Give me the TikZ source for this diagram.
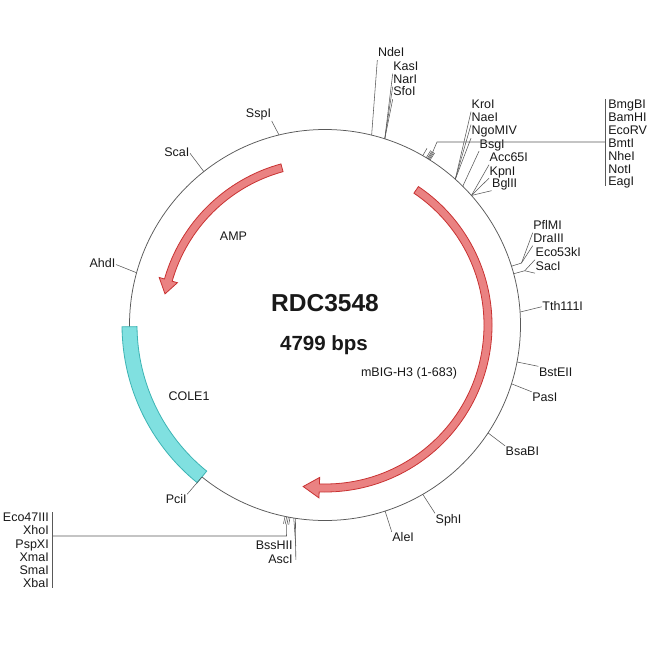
\documentclass[tikz,border=0pt]{standalone}
\usepackage{fontspec}
\setmainfont{Liberation Sans}
\definecolor{ampfill}{RGB}{234,130,130}
\definecolor{ampline}{RGB}{200,50,50}
\definecolor{orifill}{RGB}{128,224,224}
\definecolor{oriline}{RGB}{60,180,180}
\definecolor{txt}{RGB}{25,25,25}
\begin{document}
\begin{tikzpicture}[x=1pt,y=-1pt,
 lab/.style={font=\fontsize{12.5}{13}\selectfont, text=txt, inner sep=0.5pt, text height=9pt, text depth=2.5pt},
 lw/.style={lab, anchor=base west},
 le/.style={lab, anchor=base east},
 ln/.style={draw=black!65, line width=0.55pt},
 feat/.style={line width=0.8pt, line join=miter}]
\useasboundingbox (0,0) rectangle (650,650);
\fill[white] (0,0) rectangle (650,650);
\begin{scope}[shift={(325,325)}]
\coordinate (C) at (0,0);
\draw[black!65, line width=0.75pt] (C) circle[radius=195.5];
% COLE1
\filldraw[feat, fill=orifill, draw=oriline] (-180.5:203) arc[start angle=-180.5,end angle=-231,radius=203] -- (-231:188) arc[start angle=-231,end angle=-180.5,radius=188] -- cycle;
% AMP
\filldraw[feat, fill=ampfill, draw=ampline] (-105.3:167) arc[start angle=-105.3, end angle=-164, radius=167] -- (-164:172.5) -- (-169:163) -- (-164:153.5) -- (-164:159) arc[start angle=-164, end angle=-105.3, radius=159] -- cycle;
% mBIG-H3
\filldraw[feat, fill=ampfill, draw=ampline] (-56:167) arc[start angle=-56, end angle=92, radius=167] -- (92:173) -- (97.7:163) -- (92:152.5) -- (92:159) arc[start angle=92, end angle=-56, radius=159] -- cycle;
% site points
\coordinate (sNde) at (-76.2:195.5);
\coordinate (sKas) at (-72.2:195.5);
\coordinate (sKro) at (-48.2:195.5);
\coordinate (sBsg) at (-45.2:195.5);
\coordinate (sAcc) at (-41.5:195.5);
\coordinate (tBmg) at (-58.1:204);
\coordinate (sPfl) at (-17.5:195.5); \coordinate (tPfl) at (-17.5:206);
\coordinate (sEco) at (-15.2:195.5); \coordinate (tEco) at (-15.2:207);
\coordinate (sTth) at (-3.8:195.5);
\coordinate (sBst) at (10.9:195.5);
\coordinate (sPas) at (17.5:195.5);
\coordinate (sBsa) at (33.5:195.5);
\coordinate (sSph) at (60:195.5);
\coordinate (sAle) at (72.1:195.5);
\coordinate (tXho) at (101:203);
\coordinate (sBss) at (99.2:195.5);
\coordinate (sAsc) at (98.7:195.5);
\coordinate (sPci) at (-231:195.5);
\coordinate (sAhd) at (-164.5:195.5);
\coordinate (sSca) at (-128.3:195.5);
\coordinate (sSsp) at (-103.6:195.5);
\foreach \a in {-60,-58.8,-58.4,-58.1,-57.8,-57.5} \draw[ln] (\a:195.5) -- (\a:204);
\foreach \a in {101.8,101.3,100.8,100.3} \draw[ln] (\a:195.5) -- (\a:203);
\end{scope}
% centre texts
\node[font=\bfseries\fontsize{24.5}{28}\selectfont, text=txt, inner sep=0pt] (title) at (325,303.5) {RDC3548};
\node[font=\bfseries\fontsize{20.5}{24}\selectfont, text=txt, inner sep=0pt, anchor=base] (bps) at (324,350.8) {4799 bps};
\node[lab, anchor=base] (amp) at (233.5,240) {AMP};
\node[lab, anchor=base] (ori) at (189,400.5) {COLE1};
\node[lab, anchor=base] (big) at (409,376.5) {mBIG-H3 (1-683)};
% labels
\node[lw] (lNde) at (377.3,57) {NdeI};
\node[lw] (lKas) at (392.7,70.5) {KasI};
\node[lw] (lNar) at (392.7,83.5) {NarI};
\node[lw] (lSfo) at (392.7,96) {SfoI};
\node[lw] (lKro) at (471,108.5) {KroI};
\node[lw] (lNae) at (471,121.5) {NaeI};
\node[lw] (lNgo) at (471,135) {NgoMIV};
\node[lw] (lBsg) at (479,148) {BsgI};
\node[lw] (lAcc) at (489,161.5) {Acc65I};
\node[lw] (lKpn) at (489,175) {KpnI};
\node[lw] (lBgl) at (491.5,187.5) {BglII};
\node[lw] (lBmg) at (607.7,108.5) {BmgBI};
\node[lw] (lBam) at (607.7,121.4) {BamHI};
\node[lw] (lEcoRV) at (607.7,134.3) {EcoRV};
\node[lw] (lBmt) at (607.7,147.2) {BmtI};
\node[lw] (lNhe) at (607.7,160.1) {NheI};
\node[lw] (lNot) at (607.7,173) {NotI};
\node[lw] (lEag) at (607.7,185.9) {EagI};
\node[lw] (lPfl) at (532.7,229.5) {PflMI};
\node[lw] (lDra) at (532.7,242.5) {DraIII};
\node[lw] (lEco) at (535,256.5) {Eco53kI};
\node[lw] (lSac) at (535,270) {SacI};
\node[lw] (lTth) at (541.7,310) {Tth111I};
\node[lw] (lBst) at (538.3,376) {BstEII};
\node[lw] (lPas) at (531.7,401.5) {PasI};
\node[lw] (lBsa) at (505,455.5) {BsaBI};
\node[lw] (lSph) at (435,523) {SphI};
\node[lw] (lAle) at (391.7,541.5) {AleI};
\node[le] (lSsp) at (271.7,117.8) {SspI};
\node[le] (lSca) at (190,156.5) {ScaI};
\node[le] (lAhd) at (116,267.8) {AhdI};
\node[le] (lPci) at (187.3,503.8) {PciI};
\node[le] (lBss) at (293.3,549.5) {BssHII};
\node[le] (lAsc) at (293.3,563.2) {AscI};
\node[le] (lE47) at (49.5,521.2) {Eco47III};
\node[le] (lXho) at (49.5,534.8) {XhoI};
\node[le] (lPsp) at (49.5,548.2) {PspXI};
\node[le] (lXma) at (49.5,561.5) {XmaI};
\node[le] (lSma) at (49.5,574.2) {SmaI};
\node[le] (lXba) at (49.5,587.2) {XbaI};
% connectors
\draw[ln] (sNde) -- (lNde.south west);
\draw[ln] (sKas) -- (lKas.south west);
\draw[ln] (sKas) -- (lNar.south west);
\draw[ln] (sKas) -- (lSfo.south west);
\draw[ln] (sKro) -- (lKro.south west);
\draw[ln] (sKro) -- (lNae.south west);
\draw[ln] (sKro) -- (lNgo.south west);
\draw[ln] (sBsg) -- (lBsg.south west);
\draw[ln] (sAcc) -- (lAcc.south west);
\draw[ln] (sAcc) -- (lKpn.south west);
\draw[ln] (sAcc) -- (lBgl.south west);
\coordinate (kBmg) at (437,142);
\coordinate (bBmg) at (605,142);
\coordinate (bBmgT) at (605,99);
\coordinate (bBmgB) at (605,186);
\draw[ln] (tBmg) -- (kBmg) -- (bBmg);
\draw[ln] (bBmgT) -- (bBmgB);
\draw[ln] (sPfl) -- (tPfl) -- (lPfl.south west);
\draw[ln] (tPfl) -- (lDra.south west);
\draw[ln] (sEco) -- (tEco) -- (lEco.south west);
\draw[ln] (tEco) -- (lSac.south west);
\draw[ln] (sTth) -- (lTth.west);
\draw[ln] (sBst) -- (lBst.north west);
\draw[ln] (sPas) -- (lPas.north west);
\draw[ln] (sBsa) -- (lBsa.north west);
\draw[ln] (sSph) -- (lSph.north west);
\draw[ln] (sAle) -- (lAle.north west);
\draw[ln] (sSsp) -- (lSsp.south east);
\draw[ln] (sSca) -- (lSca.east);
\draw[ln] (sAhd) -- (lAhd.east);
\draw[ln] (sPci) -- (lPci.north east);
\draw[ln] (sBss) -- ([xshift=2.5pt]lBss.east);
\draw[ln] (sAsc) -- ([xshift=2.5pt]lAsc.east);
\coordinate (kXho) at (286.5,536);
\coordinate (bXho) at (52.7,536);
\coordinate (bXhoT) at (52.7,512);
\coordinate (bXhoB) at (52.7,588);
\draw[ln] (tXho) -- (kXho) -- (bXho);
\draw[ln] (bXhoT) -- (bXhoB);
\end{tikzpicture}
\end{document}
